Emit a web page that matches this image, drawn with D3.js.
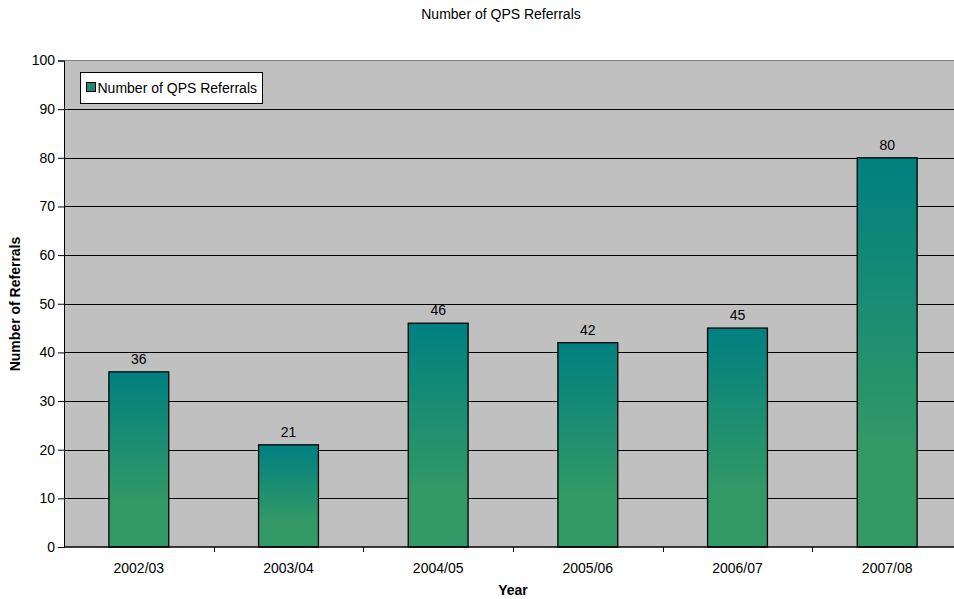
<!DOCTYPE html>
<html>
<head>
<meta charset="utf-8">
<script src="https://cdn.jsdelivr.net/npm/d3@7/dist/d3.min.js"></script>
<style>
  html, body { margin: 0; padding: 0; background: #ffffff; }
  svg { display: block; font-family: "Liberation Sans", Arial, sans-serif; }
</style>
</head>
<body>
<svg id="chart" width="954" height="599"></svg>
<script>
// Referral counts per reporting year
const years = ["2002/03", "2003/04", "2004/05", "2005/06", "2006/07", "2007/08"];
const referrals = [36, 21, 46, 42, 45, 80];
const yTicks = [0, 10, 20, 30, 40, 50, 60, 70, 80, 90, 100];
const seriesName = "Number of QPS Referrals";

const svg = d3.select("#chart");
const margin = { left: 64, top: 60.5, bottom: 547 };
const plotRight = 962; // plot area runs past the right edge of the page
const fontSize = "14px";

const x = d3.scaleBand().domain(years).range([margin.left, plotRight]).paddingInner(0).paddingOuter(0);
const y = d3.scaleLinear().domain([0, 100]).range([margin.bottom, margin.top]);

// Bar gradient: teal at the top fading into green
const defs = svg.append("defs");
const grad = defs.append("linearGradient")
  .attr("id", "barGrad").attr("x1", 0).attr("y1", 0).attr("x2", 0).attr("y2", 1);
grad.append("stop").attr("offset", "0%").attr("stop-color", "#008080");
grad.append("stop").attr("offset", "75%").attr("stop-color", "#339966");
grad.append("stop").attr("offset", "100%").attr("stop-color", "#339966");

// Plot background
svg.append("rect")
  .attr("x", margin.left).attr("y", margin.top)
  .attr("width", plotRight - margin.left).attr("height", margin.bottom - margin.top)
  .attr("fill", "#c0c0c0");

// Top border of plot area
svg.append("line")
  .attr("x1", margin.left).attr("x2", plotRight)
  .attr("y1", margin.top).attr("y2", margin.top)
  .attr("stroke", "#808080").attr("stroke-width", 1);

// Horizontal gridlines
svg.append("g").selectAll("line")
  .data(yTicks.filter(t => t > 0 && t < 100))
  .join("line")
  .attr("x1", margin.left).attr("x2", plotRight)
  .attr("y1", d => Math.round(y(d)) + 0.5).attr("y2", d => Math.round(y(d)) + 0.5)
  .attr("stroke", "#000").attr("stroke-width", 1);

// Bars
const barW = x.bandwidth() * 0.4;
svg.append("g").selectAll("rect")
  .data(years.map((yr, i) => ({ yr, v: referrals[i] })))
  .join("rect")
  .attr("x", d => x(d.yr) + (x.bandwidth() - barW) / 2)
  .attr("y", d => y(d.v))
  .attr("width", barW)
  .attr("height", d => y(0) - y(d.v))
  .attr("fill", "url(#barGrad)")
  .attr("stroke", "#000").attr("stroke-width", 1.3);

// Value labels
svg.append("g").selectAll("text")
  .data(years.map((yr, i) => ({ yr, v: referrals[i] })))
  .join("text")
  .attr("x", d => x(d.yr) + x.bandwidth() / 2)
  .attr("y", d => y(d.v) - 8)
  .attr("text-anchor", "middle")
  .attr("font-size", fontSize).attr("fill", "#000")
  .text(d => d.v);

// Y axis
const yAxis = svg.append("g")
  .attr("transform", `translate(${margin.left},0)`)
  .call(d3.axisLeft(y).tickValues(yTicks).tickSize(6).tickPadding(3));
yAxis.select(".domain").attr("stroke", "#000");
yAxis.selectAll("text").attr("font-size", fontSize).attr("fill", "#000")
  .attr("font-family", "'Liberation Sans', Arial, sans-serif");

// X axis with ticks between categories
const xAxisG = svg.append("g").attr("transform", `translate(0,${margin.bottom})`);
xAxisG.append("line")
  .attr("x1", margin.left).attr("x2", plotRight).attr("y1", 0).attr("y2", 0)
  .attr("stroke", "#000").attr("stroke-width", 1.3);
xAxisG.selectAll("line.sep")
  .data(years.slice(1))
  .join("line").attr("class", "sep")
  .attr("x1", d => Math.round(x(d)) + 0.5).attr("x2", d => Math.round(x(d)) + 0.5)
  .attr("y1", 0).attr("y2", 5)
  .attr("stroke", "#000");
xAxisG.selectAll("text")
  .data(years)
  .join("text")
  .attr("x", d => x(d) + x.bandwidth() / 2)
  .attr("y", 26)
  .attr("text-anchor", "middle")
  .attr("font-size", fontSize).attr("fill", "#000")
  .text(d => d);

// Titles
svg.append("text")
  .attr("x", 501).attr("y", 19)
  .attr("text-anchor", "middle").attr("font-size", fontSize).attr("fill", "#000")
  .text("Number of QPS Referrals");
svg.append("text")
  .attr("x", 513).attr("y", 595)
  .attr("text-anchor", "middle").attr("font-size", fontSize).attr("font-weight", "bold").attr("fill", "#000")
  .text("Year");
svg.append("text")
  .attr("transform", "translate(20,304) rotate(-90)")
  .attr("text-anchor", "middle").attr("font-size", fontSize).attr("font-weight", "bold").attr("fill", "#000")
  .text("Number of Referrals");

// Legend
const legend = svg.append("g").attr("transform", "translate(80.5,72.5)");
legend.append("rect")
  .attr("width", 182).attr("height", 31)
  .attr("fill", "#fff").attr("stroke", "#000").attr("stroke-width", 1);
legend.append("rect")
  .attr("x", 6).attr("y", 10).attr("width", 9).attr("height", 9)
  .attr("fill", "#1a8a73").attr("stroke", "#000").attr("stroke-width", 1);
legend.append("text")
  .attr("x", 17).attr("y", 20).attr("font-size", fontSize).attr("fill", "#000")
  .text(seriesName);
</script>
</body>
</html>
